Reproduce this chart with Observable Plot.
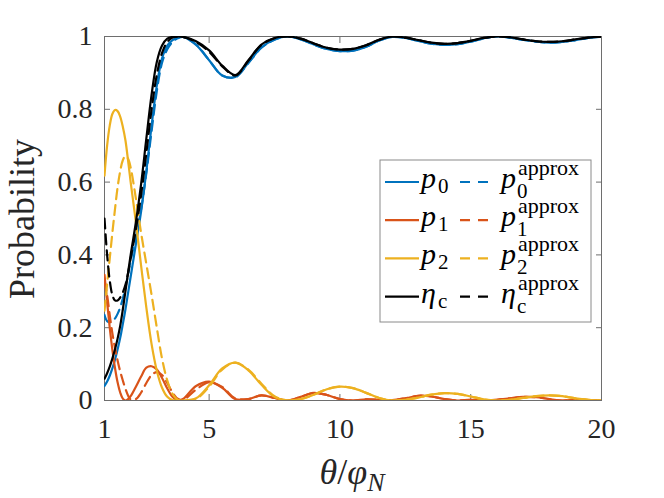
<!DOCTYPE html>
<html>
<head>
<meta charset="utf-8">
<script src="https://cdn.jsdelivr.net/npm/d3@7"></script>
<script src="https://cdn.jsdelivr.net/npm/@observablehq/plot@0.6"></script>
<style>
  html, body { margin: 0; padding: 0; background: #fff; }
  #chart { width: 664px; height: 498px; }
</style>
</head>
<body>
<div id="chart"></div>
<script>
// ---- data ----
const theta = [1, 1.1, 1.2, 1.3, 1.4, 1.5, 1.6, 1.7, 1.8, 1.9, 2.0,
  2.2, 2.4, 2.6, 2.8, 3.0, 3.2, 3.4, 3.6, 3.8, 4.0,
  4.5, 5, 5.5, 6, 6.5, 7, 7.5, 8, 8.5, 9, 9.5, 10,
  10.5, 11, 11.5, 12, 12.5, 13, 13.5, 14, 14.5, 15, 15.5, 16,
  16.5, 17, 17.5, 18, 18.5, 19, 19.5, 20];

const p0 = [0.040,0.052,0.068,0.088,0.112,0.140,0.172,0.210,0.250,0.295,0.340,
  0.430,0.520,0.630,0.755,0.865,0.940,0.975,0.990,0.997,0.999,
  0.977,0.935,0.893,0.889,0.928,0.970,0.992,1.000,0.992,0.978,0.966,0.960,
  0.961,0.972,0.989,0.999,0.996,0.988,0.980,0.977,0.979,0.986,0.995,1.000,
  0.997,0.991,0.986,0.983,0.985,0.990,0.996,1.000];

const p0approx = [0.235,0.218,0.215,0.218,0.225,0.238,0.256,0.280,0.310,0.345,0.385,
  0.450,0.525,0.625,0.740,0.850,0.928,0.965,0.985,0.995,0.999,
  0.978,0.935,0.893,0.888,0.927,0.969,0.991,1.000,0.992,0.978,0.966,0.960,
  0.961,0.972,0.989,0.999,0.996,0.988,0.980,0.977,0.979,0.986,0.995,1.000,
  0.997,0.991,0.986,0.983,0.985,0.990,0.996,1.000];

const p1 = [0.345,0.270,0.200,0.140,0.090,0.050,0.022,0.005,0.000,0.004,0.012,
  0.038,0.066,0.090,0.094,0.085,0.062,0.033,0.010,0.000,0.004,
  0.040,0.052,0.035,0.004,0.004,0.014,0.007,0.000,0.010,0.021,0.015,0.004,
  0.000,0.003,0.002,0.001,0.006,0.013,0.011,0.004,0.000,0.002,0.001,0.002,
  0.006,0.010,0.009,0.004,0.000,0.002,0.001,0.000];

const p1approx = [0.330,0.290,0.235,0.185,0.145,0.110,0.080,0.055,0.032,0.014,0.003,
  0.004,0.022,0.048,0.070,0.078,0.070,0.048,0.022,0.005,0.001,
  0.030,0.050,0.037,0.006,0.004,0.014,0.007,0.000,0.010,0.021,0.015,0.004,
  0.000,0.003,0.002,0.001,0.006,0.013,0.011,0.004,0.000,0.002,0.001,0.002,
  0.006,0.010,0.009,0.004,0.000,0.002,0.001,0.000];

const p2 = [0.618,0.700,0.755,0.787,0.798,0.795,0.780,0.752,0.715,0.660,0.600,
  0.490,0.370,0.255,0.155,0.082,0.035,0.010,0.001,0.000,0.000,
  0.006,0.042,0.088,0.104,0.083,0.043,0.010,0.000,0.004,0.016,0.031,0.038,
  0.034,0.021,0.007,0.000,0.002,0.008,0.016,0.020,0.018,0.011,0.003,0.000,
  0.002,0.007,0.012,0.014,0.012,0.006,0.002,0.000];

const p2approx = [0.247,0.320,0.390,0.460,0.525,0.585,0.630,0.660,0.672,0.665,0.640,
  0.555,0.460,0.375,0.290,0.200,0.115,0.055,0.018,0.002,0.000,
  0.004,0.038,0.085,0.104,0.085,0.046,0.012,0.000,0.004,0.016,0.031,0.038,
  0.034,0.021,0.007,0.000,0.002,0.008,0.016,0.020,0.018,0.011,0.003,0.000,
  0.002,0.007,0.012,0.014,0.012,0.006,0.002,0.000];

const etac = [0.060,0.075,0.093,0.115,0.140,0.170,0.205,0.250,0.300,0.350,0.400,
  0.490,0.595,0.720,0.840,0.930,0.975,0.994,0.999,1.000,0.999,
  0.987,0.962,0.920,0.894,0.935,0.978,0.996,1.000,0.994,0.981,0.969,0.964,
  0.966,0.976,0.991,1.000,0.997,0.990,0.983,0.980,0.982,0.988,0.996,1.000,
  0.998,0.992,0.987,0.985,0.987,0.992,0.997,1.000];

const etacapprox = [0.500,0.400,0.330,0.290,0.275,0.275,0.283,0.297,0.318,0.350,0.390,
  0.470,0.565,0.680,0.800,0.895,0.955,0.985,0.997,1.000,0.999,
  0.985,0.958,0.918,0.893,0.933,0.977,0.995,1.000,0.994,0.981,0.969,0.964,
  0.966,0.976,0.991,1.000,0.997,0.990,0.983,0.980,0.982,0.988,0.996,1.000,
  0.998,0.992,0.987,0.985,0.987,0.992,0.997,1.000];

const xTicks = [1, 5, 10, 15, 20];
const yTicks = [0, 0.2, 0.4, 0.6, 0.8, 1];

const legendSymbols = ["p", "p", "p", "η"];
const legendSubs = ["0", "1", "2", "c"];
const approxLabel = "approx";
const yLabel = "Probability";

// ---- styles ----
const serif = "Liberation Serif";
const colors = ["#0072BD", "#D95319", "#EDB120", "#000000"];
const solidSeries = [p0, p1, p2, etac];
const dashedSeries = [p0approx, p1approx, p2approx, etacapprox];
const dash = "10,6";
const lw = 2.2;
const axisColor = "#6e6e6e";

const toRows = (vals) => theta.map((t, i) => ({theta: t, value: vals[i]}));

const lineMarks = [];
for (let k = 0; k < 4; k++) {
  lineMarks.push(Plot.line(toRows(solidSeries[k]), {
    x: "theta", y: "value", stroke: colors[k], strokeWidth: lw,
    curve: "catmull-rom", clip: true
  }));
  lineMarks.push(Plot.line(toRows(dashedSeries[k]), {
    x: "theta", y: "value", stroke: colors[k], strokeWidth: lw,
    strokeDasharray: dash, curve: "catmull-rom", clip: true
  }));
}

const svg = Plot.plot({
  width: 664,
  height: 498,
  marginLeft: 104,
  marginRight: 63,
  marginTop: 36,
  marginBottom: 98,
  style: {fontFamily: serif, fontSize: "28px", background: "#fff"},
  x: {domain: [1, 20]},
  y: {domain: [0, 1]},
  marks: [
    Plot.frame({stroke: axisColor, strokeWidth: 1}),
    Plot.axisX(xTicks, {anchor: "bottom", tickSize: -6, stroke: axisColor, tickFormat: () => "", label: null}),
    Plot.axisX(xTicks, {anchor: "top", tickSize: -6, stroke: axisColor, tickFormat: () => "", label: null}),
    Plot.axisY(yTicks, {anchor: "left", tickSize: -6, stroke: axisColor, tickFormat: () => "", label: null}),
    Plot.axisY(yTicks, {anchor: "right", tickSize: -6, stroke: axisColor, tickFormat: () => "", label: null}),
    Plot.axisX(xTicks, {anchor: "bottom", tickSize: 0, tickPadding: 18, fill: "#262626", tickFormat: d => String(d), label: null}),
    Plot.axisY(yTicks, {anchor: "left", tickSize: 0, tickPadding: 12, fill: "#262626", tickFormat: d => String(d), label: null}),
    ...lineMarks
  ]
});

const sel = d3.select(svg);

// y-axis label
sel.append("text")
  .attr("transform", "translate(34,219) rotate(-90)")
  .attr("text-anchor", "middle")
  .attr("fill", "#262626")
  .attr("font-family", serif)
  .attr("font-size", 36)
  .text(yLabel);

// x-axis label  θ/φ_N
const xl = sel.append("text")
  .attr("x", 352).attr("y", 484)
  .attr("text-anchor", "middle")
  .attr("fill", "#262626")
  .attr("font-family", serif)
  .attr("font-size", 36);
xl.append("tspan").attr("font-style", "italic").text("θ");
xl.append("tspan").text("/");
xl.append("tspan").attr("font-style", "italic").text("φ");
xl.append("tspan").attr("font-style", "italic").attr("font-size", 26).attr("dy", 7).text("N");

// legend
const lg = sel.append("g").attr("font-family", serif).attr("fill", "#000").attr("text-anchor", "start");
lg.append("rect").attr("x", 380).attr("y", 160).attr("width", 211).attr("height", 162)
  .attr("fill", "#fff").attr("stroke", "#8a8a8a").attr("stroke-width", 1);
for (let i = 0; i < 4; i++) {
  const ly = 182 + i * 38.2;
  lg.append("line").attr("x1", 385).attr("x2", 419).attr("y1", ly).attr("y2", ly)
    .attr("stroke", colors[i]).attr("stroke-width", lw);
  lg.append("line").attr("x1", 460).attr("x2", 488).attr("y1", ly).attr("y2", ly)
    .attr("stroke", colors[i]).attr("stroke-width", lw).attr("stroke-dasharray", "10,8");
  // column 1: symbol with subscript
  const t1 = lg.append("text").attr("x", 421).attr("y", ly + 6).attr("text-anchor", "start");
  t1.append("tspan").attr("font-size", 30).attr("font-style", "italic").text(legendSymbols[i]);
  t1.append("tspan").attr("x", 438).attr("dy", 5).attr("font-size", 21).text(legendSubs[i]);
  // column 2: symbol with stacked superscript and subscript
  const t2 = lg.append("text").attr("x", 501).attr("y", ly + 6).attr("text-anchor", "start");
  t2.append("tspan").attr("font-size", 30).attr("font-style", "italic").text(legendSymbols[i]);
  t2.append("tspan").attr("x", 518).attr("dy", -13).attr("font-size", 22).text(approxLabel);
  t2.append("tspan").attr("x", 517).attr("dy", 23).attr("font-size", 21).text(legendSubs[i]);
}

document.getElementById("chart").appendChild(svg);
</script>
</body>
</html>
